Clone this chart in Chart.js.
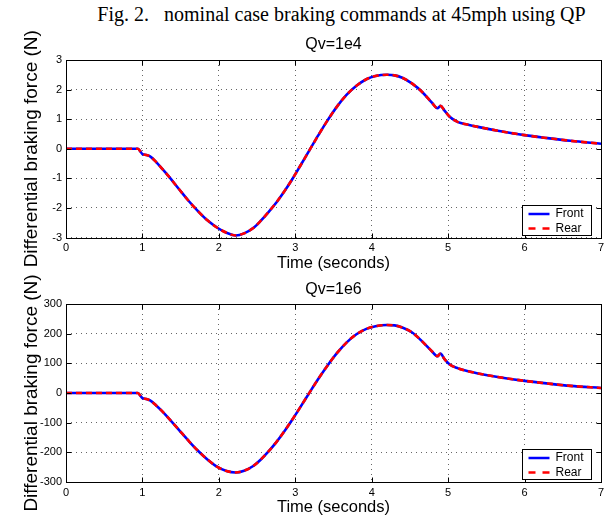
<!DOCTYPE html>
<html><head><meta charset="utf-8">
<script src="https://cdn.jsdelivr.net/npm/chart.js@4"></script>
<style>
html,body{margin:0;padding:0;background:#fff;}
body{width:613px;height:523px;position:relative;overflow:hidden;}
#cap{position:absolute;left:35px;top:3px;width:613px;text-align:center;font-family:"Liberation Serif","Times New Roman",serif;font-size:20px;white-space:pre;color:#000;}
canvas{position:absolute;left:0;}
</style></head><body>
<div id="cap">Fig. 2.   nominal case braking commands at 45mph using QP</div>
<canvas id="c1" width="613" height="247" style="top:28px"></canvas>
<canvas id="c2" width="613" height="248" style="top:275px"></canvas>
<script>
const timeSec    = [0, 0.5, 0.94, 0.97, 1.0, 1.05, 1.1, 1.18, 1.26, 1.35, 1.48, 1.6, 1.72, 1.85, 1.98, 2.1, 2.22, 2.33, 2.45, 2.55, 2.65, 2.76, 2.86, 2.96, 3.06, 3.19, 3.3, 3.42, 3.55, 3.67, 3.8, 3.93, 4.05, 4.2, 4.3, 4.4, 4.53, 4.66, 4.79, 4.86, 4.9, 4.95, 5.02, 5.13, 5.25, 5.39, 5.65, 6.0, 6.3, 6.6, 7.0];
const frontQv1e4 = [0, 0, 0, -0.08, -0.18, -0.21, -0.26, -0.45, -0.68, -0.95, -1.37, -1.75, -2.09, -2.42, -2.67, -2.84, -2.93, -2.86, -2.68, -2.43, -2.14, -1.79, -1.43, -1.03, -0.6, -0.03, 0.45, 0.95, 1.44, 1.82, 2.13, 2.35, 2.46, 2.5, 2.48, 2.4, 2.2, 1.92, 1.55, 1.37, 1.45, 1.3, 1.08, 0.9, 0.82, 0.74, 0.61, 0.46, 0.36, 0.27, 0.17];
const rearQv1e4  = [0, 0, 0, -0.08, -0.18, -0.21, -0.26, -0.45, -0.68, -0.95, -1.37, -1.75, -2.09, -2.42, -2.67, -2.84, -2.93, -2.86, -2.68, -2.43, -2.14, -1.79, -1.43, -1.03, -0.6, -0.03, 0.45, 0.95, 1.44, 1.82, 2.13, 2.35, 2.46, 2.5, 2.48, 2.4, 2.2, 1.92, 1.55, 1.37, 1.45, 1.3, 1.08, 0.9, 0.82, 0.74, 0.61, 0.46, 0.36, 0.27, 0.17];
const frontQv1e6 = [0, 0, 0, -8, -17, -20, -25, -42, -62, -87, -125, -160, -193, -224, -249, -263, -268, -262, -246, -224, -197, -163, -128, -90, -50, 3, 47, 92, 136, 170, 198, 216, 225, 229, 228, 221, 204, 174, 140, 124, 133, 115, 96, 83, 74, 66, 54, 41, 32, 24, 17];
const rearQv1e6  = [0, 0, 0, -8, -17, -20, -25, -42, -62, -87, -125, -160, -193, -224, -249, -263, -268, -262, -246, -224, -197, -163, -128, -90, -50, 3, 47, 92, 136, 170, 198, 216, 225, 229, 228, 221, 204, 174, 140, 124, 133, 115, 96, 83, 74, 66, 54, 41, 32, 24, 17];
const xTicks = [0, 1, 2, 3, 4, 5, 6, 7];
const yTicksQv1e4 = [-3, -2, -1, 0, 1, 2, 3];
const yTicksQv1e6 = [-300, -200, -100, 0, 100, 200, 300];
const seriesNames = ['Front', 'Rear'];
const plotTitles = ['Qv=1e4', 'Qv=1e6'];
const xAxisTitle = 'Time (seconds)';
const yAxisTitle = 'Differential braking force (N)';

const SANS = '"Liberation Sans", Arial, Helvetica, sans-serif';

const frame = {
  id: 'frame',
  afterDatasetsDraw(chart) {
    const {ctx, chartArea: a, scales: {x, y}} = chart;
    ctx.save();
    ctx.setLineDash([]);
    ctx.strokeStyle = '#000';
    ctx.lineWidth = 1;
    const L = 5;
    const l = Math.round(a.left) + 0.5, r = Math.round(a.right) + 0.5;
    const t = Math.round(a.top) + 0.5, b = Math.round(a.bottom) + 0.5;
    ctx.beginPath();
    x.ticks.forEach(tk => {
      const px = Math.round(x.getPixelForValue(tk.value)) + 0.5;
      ctx.moveTo(px, b); ctx.lineTo(px, b - L);
      ctx.moveTo(px, t); ctx.lineTo(px, t + L);
    });
    y.ticks.forEach(tk => {
      const py = Math.round(y.getPixelForValue(tk.value)) + 0.5;
      ctx.moveTo(l, py); ctx.lineTo(l + L, py);
      ctx.moveTo(r, py); ctx.lineTo(r - L, py);
    });
    ctx.stroke();
    ctx.strokeRect(l, t, r - l, b - t);
    // legend
    const lw = 69, lh = 30;
    const lx = Math.round(a.right - 10 - lw) + 0.5, ly = Math.round(a.bottom - 3 - lh) + 0.5;
    ctx.fillStyle = '#fff';
    ctx.fillRect(lx, ly, lw, lh);
    ctx.strokeRect(lx, ly, lw, lh);
    ctx.font = '12px ' + SANS;
    ctx.textBaseline = 'middle';
    ctx.textAlign = 'left';
    chart.data.datasets.forEach((ds, i) => {
      const ry = ly + 8.5 + i * 14.5;
      ctx.save();
      ctx.strokeStyle = ds.borderColor;
      ctx.lineWidth = 2.5;
      ctx.setLineDash(i === 1 ? [7, 7] : []);
      ctx.beginPath();
      ctx.moveTo(lx + 6, ry); ctx.lineTo(lx + 27, ry);
      ctx.stroke();
      ctx.restore();
      ctx.fillStyle = '#000';
      ctx.fillText(ds.label, lx + 33, ry);
    });
    ctx.restore();
  }
};

function makeChart(id, title, front, rear, yTicks, cfg) {
  return new Chart(document.getElementById(id), {
    type: 'line',
    data: {
      datasets: [
        {label: seriesNames[0], data: timeSec.map((t, i) => ({x: t, y: front[i]})),
         borderColor: '#0000ff', borderWidth: 2.6, pointRadius: 0, cubicInterpolationMode: 'monotone', order: 1},
        {label: seriesNames[1], data: timeSec.map((t, i) => ({x: t, y: rear[i]})),
         borderColor: '#ff0000', borderWidth: 2.6, borderDash: [6, 4], pointRadius: 0, cubicInterpolationMode: 'monotone', order: 0}
      ]
    },
    options: {
      responsive: false, animation: false, devicePixelRatio: 1,
      layout: {padding: {left: 0, right: 12, top: 0, bottom: 0}},
      plugins: {
        legend: {display: false},
        tooltip: {enabled: false},
        title: {display: true, text: title, fullSize: false, color: '#000',
          font: {family: SANS, size: 16, weight: 'normal', lineHeight: 1.2},
          padding: {top: cfg.tTop, bottom: cfg.tBot}}
      },
      scales: {
        x: {type: 'linear', min: xTicks[0], max: xTicks[xTicks.length - 1],
          afterBuildTicks: s => { s.ticks = xTicks.map(v => ({value: v})); },
          afterFit: s => { s.height = cfg.xh; },
          grid: {color: 'rgba(0,0,0,0.6)', lineWidth: 1, drawTicks: false},
          border: {display: false, dash: [1, 4]},
          ticks: {color: '#000', font: {family: SANS, size: 11}, padding: 4, maxRotation: 0, autoSkip: false},
          title: {display: true, text: xAxisTitle, color: '#000', font: {family: SANS, size: 16.5, lineHeight: 1.2}, padding: {top: 0, bottom: cfg.xtb}}
        },
        y: {type: 'linear', min: yTicks[0], max: yTicks[yTicks.length - 1],
          afterBuildTicks: s => { s.ticks = yTicks.map(v => ({value: v})); },
          afterFit: s => { s.width = 66; },
          grid: {color: 'rgba(0,0,0,0.6)', lineWidth: 1, drawTicks: false},
          border: {display: false, dash: [1, 4]},
          ticks: {color: '#000', font: {family: SANS, size: 11}, padding: 4, autoSkip: false},
          title: {display: true, text: yAxisTitle, color: '#000', font: {family: SANS, size: 19, lineHeight: 1.2}, padding: {top: 20.6, bottom: 0}}
        }
      }
    },
    plugins: [frame]
  });
}

makeChart('c1', plotTitles[0], frontQv1e4, rearQv1e4, yTicksQv1e4, {tTop: 7.4, tBot: 5.4, xh: 37.5, xtb: 1.2});
makeChart('c2', plotTitles[1], frontQv1e6, rearQv1e6, yTicksQv1e6, {tTop: 5.4, tBot: 4.4, xh: 41, xtb: 5.2});
</script>
</body></html>
